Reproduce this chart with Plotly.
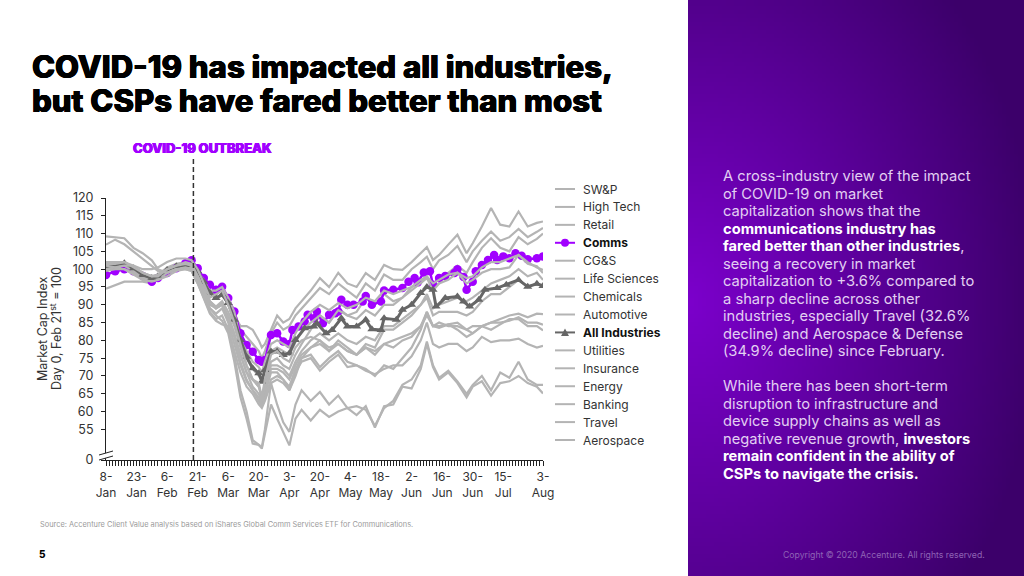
import base64, struct, zlib
import numpy as np
import plotly.graph_objects as go

W, H = 1024, 576
PL, PR, PT, PB = 106, 543, 198, 460

sessions = [0,3,6,9,12, 15,17,20,23,26, 28,30,32,34,36, 38,40,42,44,46, 48,50,51,52,54,
            56,58,60,62,64, 67,70,73,76,79, 82,85,88,91,94, 97,100,103,105,107,
            109,112,115,118,120, 123,126,129,132,135, 138,141,143]

sw_p = [100.5,101,102,100.5,99, 98,98.5,100.5,101.5,102, 102,99.5,97,94,92.5, 95,91,87,84,84,
        83,80,78,79,83, 87,85,86,89,91, 94,97.5,95,99,96, 95,98.9,97,101.2,100,
        99.8,102,104.5,106.2,102.6, 104,106.9,109.7,104.5,107.3, 112,117.2,112.5,112,116.2, 112,113,113.4]
high_tech = [94.5,95.5,96.5,96.5,96.5, 96,97,99,100,100.5, 100.5,98,95.5,94,93, 94.5,92,88,83,81,
             79,77,75,77,82, 85,83,84,87,89, 92,94.7,93,96,94, 92,96,94,98.5,97,
             97,100,102,103.5,100, 102.5,104,106.5,102,105, 108,110.6,108,109,111.3, 109,110.5,111.6]
retail = [101,100.5,101,100,98, 97,97.5,100,100.5,101, 101,98,95,91,89, 90.5,86,81,76,71,
          69,67,64,68,74, 75,73,72,76,79, 83,87,85,89,87, 88,92,90,93,91,
          92,95,96,98,95, 96,99,101,99,102, 106,108.7,106,105,109, 107,108.5,110]
cg_s = [100.5,101,101,100,98.5, 97.5,98,100,101,101.5, 101.5,99,97,93.5,92, 93,90,86,80,75,
        72,70,69,72,77, 78,77,76,79.5,82.5, 85,87,85,88.5,87, 86,88.5,87,90,90,
        92,94,96,97.5,94, 96,97,99,96,97, 99,100,100,100.5,104, 102,100.5,99.8]
life_sciences = [99.5,100,100,99,97.5, 97,97,99.5,100.5,101, 101,98,96,94,94, 95,92,88,80,77,
                 74,72.5,71,74,79, 80,79,78,82,85, 88,90,88.5,90.5,89, 90,92,91,94,93,
                 94,95,97,98,96, 97,98.5,99,97.5,98, 100.5,102,102,103,104, 101.5,100.8,98.9]
chemicals = [101,101,101,99.5,98, 97,97,99,100,100.5, 100.5,98,94.5,91,89.5, 91,88,84,78,73,
             69,67,64,67,73, 73,72,70,74,77, 80,82,80,82,80, 79,81,80,84,84,
             86,88,90,93,89, 90,91,92,91,92, 94,96,97,98,100, 98,99,97]
automotive = [101,102,101.5,100,98.5, 97,97.5,99.5,100.5,101, 100,97,93,89,87.5, 89,85,79,73,68.5,
              66,64,62,65,71, 71,69,66,70,75, 78,80,77,80,78, 76,79,78,83,83,
              85,87,90,92,87, 88,88,88,87,88, 91,93,93,95,97, 95,96,95.3]
utilities = [100,100.5,101,101,100, 100,100.5,102,103,103, 102.5,100,96,92,93, 94,90,85,79,73,
             69,68,64,69,76, 77,75,74,78,80, 81,80,78,79,77, 76,78,76,79,80,
             81,82,84,87,84, 84,84.5,85,83,84, 84,85,86,87,87.5, 86.5,87.5,87.4]
insurance = [101.5,101.5,102,101,99, 98,98.5,100,101,101.5, 101,98,94,90,89, 90,87,82,76,71,
             67,65,63,66,72, 72,71,69,73,76, 78,79,77,79,77, 76,78,77,79,78,
             80,81,84,88,84, 85,84,84,83,82, 84,85,85,85.5,86.5, 85,85,84.4]
energy = [101,100.5,100,98.5,97, 96.5,97,98,99.5,100, 99.5,96,92,88,86, 87,83,77,71,67,
          65,62,61,63,68, 69,68,66,71,74, 75,71.5,74,76,72.5, 73,72,70,73,72,
          75,78,83,88,84, 83.5,84.5,83,81,82, 84,83,84.5,86,86, 84,84,82.8]
banking = [102,102,102,100.5,99, 98,98,100,101,102, 101.5,98,94,91,89, 90,86,81,74,69,
           66,63,61.5,64,69, 70,69,67,72,75, 76,72.5,75,77,74, 73,71.5,70.5,72,73,
           73,75.5,80,85,79, 78,79,79,77,78, 81,79.5,80,80,80.5, 79,78,78.5]
travel = [106.9,108.3,107,105,103, 101,99.5,99,100,100, 99.5,96,92,87.5,85.5, 84.5,84,76,66,60,
          52,50.5,50,55,68, 62,57,54.3,62,66, 63,65.5,62,64.5,61, 61.5,60.5,56,61,63,
          67.5,69,73,79.7,73, 69.5,71.5,68.5,65,67.5, 70,66,71,69.5,74, 69,67.5,67.5]
aerospace = [109.2,109,108.7,106,104.5, 102.5,100,99,100,100.5, 100,97,93,89,87, 85.5,82,74,64,58,
             51,50.6,49.6,54,62, 58,54,50.5,58,60.5, 57.5,60.5,58.5,60,61, 59,61.5,55.5,61.5,62,
             67,66.5,72,79,72.5, 69,71,68,64,67, 68.5,64.5,68,68.5,70, 68,67,65.1]

comms_sessions = [0,3,6,9,12, 15,17,20,23,26, 28,30,32,34,36, 38,40,42,44,46, 48,50,51,52,54, 56,58,60,
                  61,63,65,66,68, 69,71,73,75,76, 77,79,81,84,85, 87,90,91,94,97,
                  99,101,102,104,106, 107,109,111,114,115, 117,118,120,121,123, 125,127,128,130,132, 134,136,138,141,143]
comms = [98.4,99.4,100,99.4,98.1, 96.5,97.5,98.9,100.3,101.7, 102.5,100.3,97.5,95.6,94.2, 95.1,91.9,88.1,82,78.7,
         76.8,74.5,74,74.5,81.5, 82,79.7,79,
         82.9,83.9,85.3,87.2,86.2, 88.1,84.8,87.2,87.6,88.1, 91.4,90,90,90.9,92.5, 90,90.9,94,94.2,94.7,
         96.5,97.5,96.3,99.1,99.4, 95.6,97.5,98.1,98.9,100, 97.8,94.2,96.5,99.4,101.2, 102.6,104,102.6,103.6,103.1, 104.5,103.8,102.8,103.1,103.6]
all_sessions = [0,3,6,9,12, 15,17,20,23,26, 28,30,32,34,36, 38,40,42,44,46, 48,50,51,52,54, 56,58,60,
                62,65,68,69,72, 74,77,79,82,85, 87,90,91,95,97, 100,103,105,107,108, 111,115,117,119,122, 124,128,131,135,138, 141,143]
all_industries = [100.6,101.2,101.7,100.3,98.4, 97.5,98,99.8,100.8,101.2, 101.4,99.4,96.5,93.3,91.9, 92.8,90.5,85.8,80.1,75.4,
                  72.2,70.8,68.4,71.7,76.9, 76.9,75.9,76.4,
                  80.1,83.4,83.9,84.8,82, 82.9,86.2,83.9,83.9,85.8, 83.1,82.9,86.2,85.8,88.6,
                  90,93.3,95,94.2,89.5, 91.9,92.3,90.9,89.5,91.4, 94.2,94.7,95.6,97,95.1, 95.9,95.3]

x_ticks = [0,10,20,30,40,50,60,70,80,90,100,110,120,130,143]
x_labels = ["8-<br>Jan","23-<br>Jan","6-<br>Feb","21-<br>Feb","6-<br>Mar","20-<br>Mar","3-<br>Apr","20-<br>Apr",
            "4-<br>May","18-<br>May","2-<br>Jun","16-<br>Jun","30-<br>Jun","15-<br>Jul","3-<br>Aug"]
Y_BREAK = 46.4
y_ticks = [Y_BREAK,55,60,65,70,75,80,85,90,95,100,105,110,115,120]
y_labels = ["0","55","60","65","70","75","80","85","90","95","100","105","110","115","120"]
outbreak_session = 28.6

W_ = '<span style="color:#ffffff"><b>'
E_ = '</b></span>'
body_para1 = ["A cross-industry view of the impact", "of COVID-19 on market", "capitalization shows that the",
              W_ + "communications industry has" + E_, W_ + "fared better than other industries" + E_ + ",",
              "seeing a recovery in market", "capitalization to +3.6% compared to", "a sharp decline across other",
              "industries, especially Travel (32.6%", "decline) and Aerospace &amp; Defense", "(34.9% decline) since February."]
body_para2 = ["While there has been short-term", "disruption to infrastructure and", "device supply chains as well as",
              "negative revenue growth, " + W_ + "investors" + E_, W_ + "remain confident in the ability of" + E_,
              W_ + "CSPs to navigate the crisis." + E_]

FONT = "Inter"
def px(v): return (v - PL) / (PR - PL)
def py(v): return (PB - v) / (PB - PT)

def gradient_png(w=84, h=144):
    yy, xx = np.mgrid[0:h, 0:w]
    d = np.sqrt(((xx / w)) ** 2 + ((yy / h - 0.52) * 1.3) ** 2)
    t = np.clip(d / 1.05, 0, 1)[..., None]
    a = np.array([124, 0, 204.0]); b = np.array([60, 0, 106.0])
    img = (a * (1 - t) + b * t).astype(np.uint8)
    raw = b"".join(b"\x00" + img[r].tobytes() for r in range(h))
    def chunk(t, d):
        c = struct.pack(">I", len(d)) + t + d
        return c + struct.pack(">I", zlib.crc32(t + d) & 0xffffffff)
    png = b"\x89PNG\r\n\x1a\n" + chunk(b"IHDR", struct.pack(">IIBBBBB", w, h, 8, 2, 0, 0, 0)) + \
          chunk(b"IDAT", zlib.compress(raw)) + chunk(b"IEND", b"")
    return "data:image/png;base64," + base64.b64encode(png).decode()

GREY = "#b4b4b4"
PURPLE = "#a100ff"
DARK = "#666666"

# legend order is also the drawing order: later lines pass over earlier ones
series = [("SW&P", sessions, sw_p), ("High Tech", sessions, high_tech), ("Retail", sessions, retail),
          ("<b>Comms</b>", comms_sessions, comms), ("CG&S", sessions, cg_s), ("Life Sciences", sessions, life_sciences),
          ("Chemicals", sessions, chemicals), ("Automotive", sessions, automotive),
          ("<b>All Industries</b>", all_sessions, all_industries), ("Utilities", sessions, utilities),
          ("Insurance", sessions, insurance), ("Energy", sessions, energy), ("Banking", sessions, banking),
          ("Travel", sessions, travel), ("Aerospace", sessions, aerospace)]

fig = go.Figure()
def note(text, x, y, size, color="#000000", weight=400, shadow=None, angle=0, xanchor="left"):
    f = dict(family=FONT, size=size, color=color, weight=weight)
    if shadow:
        f["shadow"] = shadow
    fig.add_annotation(text=text, xref="paper", yref="paper", x=px(x), y=py(y), showarrow=False, xanchor=xanchor,
                       yanchor="middle", align="left", borderpad=0, borderwidth=0, textangle=angle, font=f)

shapes = []
for k, (name, xs, vals) in enumerate(series):
    assert len(xs) == len(vals), name
    row = 189 + 17.93 * k
    color = GREY
    if name == "<b>Comms</b>":
        color = PURPLE
        style = dict(mode="lines+markers", line=dict(color=PURPLE, width=2.5),
                     marker=dict(symbol="circle", size=8.5, color=PURPLE))
        shapes.append(dict(type="circle", xref="paper", yref="paper", x0=px(561), x1=px(569), y0=py(row+4), y1=py(row-4),
                           fillcolor=PURPLE, line=dict(width=0)))
    elif name == "<b>All Industries</b>":
        color = DARK
        style = dict(mode="lines+markers", line=dict(color=DARK, width=3),
                     marker=dict(symbol="triangle-up", size=8, color=DARK))
        shapes.append(dict(type="path", xref="paper", yref="paper", fillcolor=DARK, line=dict(width=0),
                           path=f"M {px(561)} {py(row+3.5)} L {px(569)} {py(row+3.5)} L {px(565)} {py(row-4)} Z"))
    else:
        style = dict(mode="lines", line=dict(color=GREY, width=2.2))
    fig.add_trace(go.Scatter(x=xs, y=vals, name=name, showlegend=False, hoverinfo="skip", **style))
    shapes.append(dict(type="line", xref="paper", yref="paper", x0=px(555), x1=px(575), y0=py(row), y1=py(row),
                       line=dict(color=color, width=2)))
    note(name, 583, row, 12, color="#333333" if "<b>" not in name else "#111111")

THICK = "0.5px 0 0 {c}, -0.5px 0 0 {c}, 0 0.3px 0 {c}"
note("COVID-19 has impacted all industries,", 32, 67, 31.1, weight=800, shadow=THICK.format(c="#000000"))
note("but CSPs have fared better than most", 32, 101, 31.1, weight=800, shadow=THICK.format(c="#000000"))
note("COVID-19 OUTBREAK", 133, 148, 13, color=PURPLE, weight=800, shadow=THICK.format(c=PURPLE))
note("Source: Accenture Client Value analysis based on iShares Global Comm Services ETF for Communications.", 40, 524, 7.4, color="#9a9a9a")
note("5", 39, 554, 10, weight=800)
note("Copyright © 2020 Accenture. All rights reserved.", 783, 555, 8.7, color="#8f63b5")
note("Market Cap Index", 42, 329, 12.5, color="#333333", angle=-90, xanchor="center")
note("Day 0, Feb 21<sup>st</sup> = 100", 56, 329, 12.5, color="#333333", angle=-90, xanchor="center")

for k, line in enumerate(body_para1):
    note(line, 723, 176 + 17.5 * k, 14.7, color="#e2cff2")
for k, line in enumerate(body_para2):
    note(line, 723, 386 + 17.5 * k, 14.7, color="#e2cff2")

shapes += [
    dict(type="line", xref="x", yref="paper", x0=outbreak_session, x1=outbreak_session, y0=0, y1=py(158),
         line=dict(color="#333333", width=1.5, dash="5px,3px")),
    dict(type="path", xref="paper", yref="paper", layer="above", line=dict(width=0), fillcolor="#ffffff",
         path=f"M {px(99)} {py(455)} L {px(113)} {py(451)} L {px(113)} {py(456)} L {px(99)} {py(460)} Z"),
    dict(type="line", xref="paper", yref="paper", x0=px(99), x1=px(113), y0=py(455), y1=py(451), line=dict(color="#222222", width=1)),
    dict(type="line", xref="paper", yref="paper", x0=px(99), x1=px(113), y0=py(460), y1=py(456), line=dict(color="#222222", width=1)),
]

fig.update_layout(
    width=W, height=H, autosize=False, margin=dict(l=PL, r=W-PR, t=PT, b=H-PB, pad=0),
    paper_bgcolor="#ffffff", plot_bgcolor="#ffffff", font=dict(family=FONT, size=12, color="#333333"),
    shapes=shapes, showlegend=False,
    images=[dict(source=gradient_png(), xref="paper", yref="paper", x=px(688), y=py(0), sizex=(W-688)/(PR-PL), sizey=H/(PB-PT),
                 xanchor="left", yanchor="top", sizing="stretch", layer="below")],
    xaxis=dict(range=[0, 143], tickmode="array", tickvals=x_ticks, ticktext=x_labels, showgrid=False, zeroline=False,
               showline=True, linecolor="#222222", linewidth=1, ticks="outside", ticklen=5, tickwidth=1, tickcolor="#222222",
               tickangle=0, tickfont=dict(family=FONT, size=12, color="#333333"), ticklabelstandoff=1,
               minor=dict(tickmode="linear", tick0=0, dtick=1, ticks="outside", ticklen=5, tickwidth=1, tickcolor="#222222", showgrid=False)),
    yaxis=dict(range=[Y_BREAK, 120], tickmode="array", tickvals=y_ticks, ticktext=y_labels, showgrid=False, zeroline=False,
               showline=True, linecolor="#222222", linewidth=1, ticks="outside", ticklen=4, tickwidth=1, tickcolor="#222222",
               tickfont=dict(family=FONT, size=12.5, color="#333333"), ticklabelstandoff=5),
)
fig.write_html("out.html", config={"displayModeBar": False},
               post_script="document.body.style.margin='0';document.body.style.overflow='hidden';")
